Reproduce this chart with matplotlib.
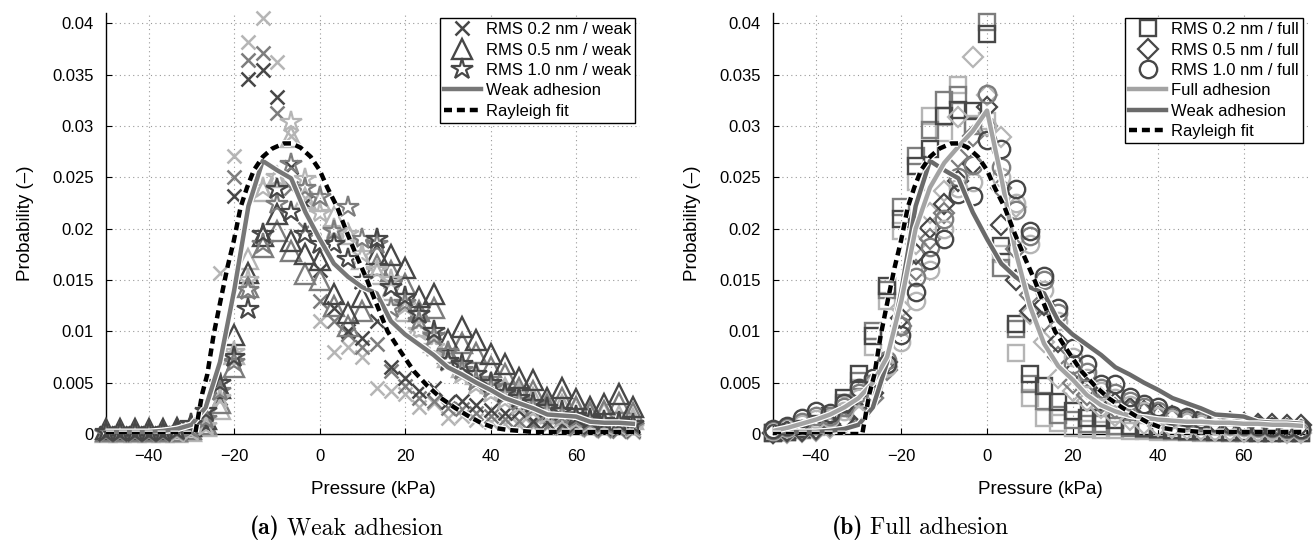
import matplotlib
matplotlib.use("Agg")
import matplotlib.pyplot as plt
import matplotlib.patheffects as pe
from matplotlib.lines import Line2D

plt.rcParams['font.family'] = ['Liberation Sans', 'DejaVu Sans']

# ---------------- data ----------------
bins = [-50.0, -46.67, -43.33, -40.0, -36.67, -33.33, -30.0, -26.67, -23.33, -20.0,
        -16.67, -13.33, -10.0, -6.67, -3.33, 0.0, 3.33, 6.67, 10.0, 13.33,
        16.67, 20.0, 23.33, 26.67, 30.0, 33.33, 36.67, 40.0, 43.33, 46.67,
        50.0, 53.33, 56.67, 60.0, 63.33, 66.67, 70.0, 73.33]

# (a) weak adhesion, RMS 0.2 nm (x markers), three realisations
rms02_weak_dark = [0.0001, 0.0001, 0.0001, 0.0001, 0.0001, 0.0001, 0.0003, 0.0008, 0.0035, 0.0232,
                   0.0346, 0.0355, 0.0328, 0.0260, 0.0225, 0.0160, 0.0123, 0.0100, 0.0094, 0.0110,
                   0.0065, 0.0055, 0.0042, 0.0045, 0.0031, 0.0032, 0.0028, 0.0023, 0.0020, 0.0022,
                   0.0013, 0.0012, 0.0010, 0.0009, 0.0007, 0.0006, 0.0005, 0.0004]
rms02_weak_mid = [0.0001, 0.0001, 0.0001, 0.0001, 0.0001, 0.0001, 0.0002, 0.0010, 0.0050, 0.0250,
                  0.0364, 0.0371, 0.0313, 0.0240, 0.0200, 0.0130, 0.0110, 0.0097, 0.0085, 0.0088,
                  0.0061, 0.0047, 0.0035, 0.0032, 0.0025, 0.0024, 0.0020, 0.0018, 0.0015, 0.0013,
                  0.0010, 0.0008, 0.0007, 0.0006, 0.0005, 0.0004, 0.0003, 0.0003]
rms02_weak_light = [0.0001, 0.0001, 0.0001, 0.0001, 0.0001, 0.0001, 0.0004, 0.0015, 0.0157, 0.0271,
                    0.0382, 0.0405, 0.0362, 0.0290, 0.0230, 0.0110, 0.0080, 0.0085, 0.0075, 0.0045,
                    0.0042, 0.0039, 0.0026, 0.0030, 0.0016, 0.0018, 0.0014, 0.0012, 0.0010, 0.0009,
                    0.0008, 0.0007, 0.0006, 0.0005, 0.0004, 0.0003, 0.0003, 0.0002]

# (a) RMS 0.5 nm (triangles)
rms05_weak_dark = [0.0005, 0.0005, 0.0005, 0.0005, 0.0005, 0.0006, 0.0008, 0.0015, 0.0045, 0.0096,
                   0.0157, 0.0193, 0.0214, 0.0188, 0.0175, 0.0169, 0.0136, 0.0118, 0.0133, 0.0175,
                   0.0174, 0.0162, 0.0133, 0.0136, 0.0092, 0.0104, 0.0092, 0.0078, 0.0068, 0.0055,
                   0.0053, 0.0035, 0.0045, 0.0034, 0.0026, 0.0029, 0.0039, 0.0026]
rms05_weak_mid = [0.0003, 0.0003, 0.0003, 0.0003, 0.0003, 0.0003, 0.0005, 0.0010, 0.0030, 0.0065,
                  0.0143, 0.0182, 0.0198, 0.0178, 0.0156, 0.0150, 0.0125, 0.0105, 0.0120, 0.0165,
                  0.0159, 0.0146, 0.0120, 0.0123, 0.0079, 0.0089, 0.0079, 0.0065, 0.0058, 0.0045,
                  0.0042, 0.0028, 0.0035, 0.0026, 0.0020, 0.0022, 0.0030, 0.0020]
rms05_weak_light = [0.0002, 0.0002, 0.0002, 0.0002, 0.0002, 0.0002, 0.0003, 0.0008, 0.0024, 0.0078,
                    0.0170, 0.0237, 0.0250, 0.0289, 0.0230, 0.0227, 0.0211, 0.0195, 0.0170, 0.0156,
                    0.0140, 0.0120, 0.0105, 0.0090, 0.0075, 0.0065, 0.0058, 0.0050, 0.0045, 0.0040,
                    0.0035, 0.0030, 0.0028, 0.0025, 0.0022, 0.0020, 0.0018, 0.0015]

# (a) RMS 1.0 nm (stars)
rms10_weak_dark = [0.0002, 0.0002, 0.0002, 0.0002, 0.0002, 0.0004, 0.0010, 0.0022, 0.0050, 0.0075,
                   0.0122, 0.0195, 0.0239, 0.0216, 0.0195, 0.0185, 0.0185, 0.0170, 0.0150, 0.0190,
                   0.0143, 0.0133, 0.0117, 0.0100, 0.0071, 0.0068, 0.0058, 0.0050, 0.0040, 0.0035,
                   0.0030, 0.0025, 0.0022, 0.0018, 0.0015, 0.0013, 0.0012, 0.0010]
rms10_weak_mid = [0.0001, 0.0001, 0.0001, 0.0001, 0.0001, 0.0003, 0.0006, 0.0015, 0.0042, 0.0070,
                  0.0140, 0.0185, 0.0224, 0.0263, 0.0240, 0.0231, 0.0198, 0.0221, 0.0190, 0.0185,
                  0.0123, 0.0128, 0.0110, 0.0095, 0.0080, 0.0062, 0.0052, 0.0045, 0.0038, 0.0032,
                  0.0026, 0.0022, 0.0019, 0.0016, 0.0013, 0.0011, 0.0010, 0.0008]
rms10_weak_light = [0.0001, 0.0001, 0.0001, 0.0001, 0.0001, 0.0001, 0.0003, 0.0008, 0.0035, 0.0080,
                    0.0150, 0.0240, 0.0250, 0.0304, 0.0248, 0.0215, 0.0200, 0.0195, 0.0175, 0.0160,
                    0.0150, 0.0125, 0.0100, 0.0085, 0.0070, 0.0058, 0.0048, 0.0040, 0.0033, 0.0028,
                    0.0023, 0.0019, 0.0016, 0.0013, 0.0011, 0.0009, 0.0008, 0.0006]

# (b) full adhesion, RMS 0.2 nm (squares)
rms02_full_dark = [0.0001, 0.0002, 0.0005, 0.0010, 0.0018, 0.0035, 0.0058, 0.0095, 0.0144, 0.0209,
                   0.0261, 0.0278, 0.0310, 0.0316, 0.0315, 0.0390, 0.0183, 0.0107, 0.0058, 0.0047,
                   0.0031, 0.0022, 0.0016, 0.0016, 0.0014, 0.0008, 0.0006, 0.0005, 0.0004, 0.0003,
                   0.0003, 0.0002, 0.0002, 0.0002, 0.0001, 0.0001, 0.0001, 0.0001]
rms02_full_mid = [0.0001, 0.0002, 0.0004, 0.0008, 0.0015, 0.0030, 0.0052, 0.0100, 0.0140, 0.0221,
                  0.0271, 0.0296, 0.0325, 0.0330, 0.0300, 0.0401, 0.0162, 0.0102, 0.0049, 0.0032,
                  0.0019, 0.0014, 0.0010, 0.0010, 0.0008, 0.0006, 0.0005, 0.0004, 0.0003, 0.0002,
                  0.0002, 0.0002, 0.0001, 0.0001, 0.0001, 0.0001, 0.0001, 0.0001]
rms02_full_light = [0.0001, 0.0002, 0.0004, 0.0007, 0.0014, 0.0028, 0.0045, 0.0085, 0.0130, 0.0198,
                    0.0245, 0.0310, 0.0293, 0.0340, 0.0302, 0.0305, 0.0175, 0.0079, 0.0035, 0.0016,
                    0.0011, 0.0006, 0.0005, 0.0004, 0.0004, 0.0003, 0.0003, 0.0002, 0.0002, 0.0002,
                    0.0001, 0.0001, 0.0001, 0.0001, 0.0001, 0.0001, 0.0001, 0.0001]

# (b) RMS 0.5 nm (diamonds)
rms05_full_dark = [0.0001, 0.0003, 0.0003, 0.0005, 0.0010, 0.0015, 0.0022, 0.0040, 0.0070, 0.0113,
                   0.0175, 0.0201, 0.0224, 0.0246, 0.0263, 0.0318, 0.0204, 0.0150, 0.0120, 0.0126,
                   0.0090, 0.0060, 0.0045, 0.0035, 0.0030, 0.0025, 0.0022, 0.0020, 0.0018, 0.0015,
                   0.0013, 0.0012, 0.0012, 0.0011, 0.0010, 0.0010, 0.0009, 0.0009]
rms05_full_mid = [0.0001, 0.0002, 0.0003, 0.0004, 0.0008, 0.0012, 0.0020, 0.0035, 0.0062, 0.0105,
                  0.0160, 0.0190, 0.0215, 0.0270, 0.0290, 0.0300, 0.0240, 0.0180, 0.0135, 0.0110,
                  0.0075, 0.0050, 0.0038, 0.0030, 0.0025, 0.0022, 0.0020, 0.0017, 0.0015, 0.0013,
                  0.0011, 0.0010, 0.0009, 0.0008, 0.0007, 0.0006, 0.0005, 0.0004]
rms05_full_light = [0.0001, 0.0001, 0.0002, 0.0003, 0.0006, 0.0010, 0.0018, 0.0035, 0.0065, 0.0123,
                    0.0185, 0.0215, 0.0237, 0.0309, 0.0367, 0.0330, 0.0289, 0.0221, 0.0117, 0.0090,
                    0.0055, 0.0042, 0.0032, 0.0025, 0.0018, 0.0014, 0.0010, 0.0008, 0.0006, 0.0005,
                    0.0004, 0.0003, 0.0003, 0.0002, 0.0002, 0.0002, 0.0001, 0.0001]

# (b) RMS 1.0 nm (circles)
rms10_full_dark = [0.0005, 0.0008, 0.0016, 0.0022, 0.0020, 0.0030, 0.0045, 0.0055, 0.0068, 0.0096,
                   0.0138, 0.0169, 0.0190, 0.0234, 0.0232, 0.0286, 0.0278, 0.0239, 0.0198, 0.0154,
                   0.0123, 0.0084, 0.0068, 0.0049, 0.0049, 0.0036, 0.0029, 0.0026, 0.0019, 0.0017,
                   0.0015, 0.0012, 0.0010, 0.0009, 0.0008, 0.0007, 0.0006, 0.0005]
rms10_full_mid = [0.0004, 0.0007, 0.0012, 0.0018, 0.0018, 0.0026, 0.0040, 0.0050, 0.0072, 0.0105,
                  0.0153, 0.0182, 0.0209, 0.0250, 0.0262, 0.0331, 0.0260, 0.0218, 0.0193, 0.0150,
                  0.0118, 0.0068, 0.0060, 0.0045, 0.0040, 0.0032, 0.0026, 0.0022, 0.0018, 0.0015,
                  0.0013, 0.0011, 0.0009, 0.0008, 0.0007, 0.0006, 0.0005, 0.0004]
rms10_full_light = [0.0003, 0.0006, 0.0010, 0.0015, 0.0016, 0.0022, 0.0035, 0.0048, 0.0065, 0.0090,
                    0.0130, 0.0160, 0.0200, 0.0240, 0.0245, 0.0300, 0.0250, 0.0225, 0.0185, 0.0140,
                    0.0110, 0.0075, 0.0055, 0.0042, 0.0035, 0.0028, 0.0022, 0.0018, 0.0015, 0.0012,
                    0.0010, 0.0009, 0.0008, 0.0007, 0.0006, 0.0005, 0.0004, 0.0003]

# mean curves
weak_adhesion = [0.0002, 0.0002, 0.0002, 0.0002, 0.0003, 0.0005, 0.0009, 0.0026, 0.0070, 0.0140,
                 0.0222, 0.0266, 0.0257, 0.0249, 0.0216, 0.0190, 0.0166, 0.0153, 0.0143, 0.0137,
                 0.0110, 0.0097, 0.0087, 0.0077, 0.0065, 0.0058, 0.0050, 0.0043, 0.0035, 0.0030,
                 0.0025, 0.0019, 0.0018, 0.0017, 0.0012, 0.0011, 0.0011, 0.0010]
full_adhesion = [0.0003, 0.0006, 0.0010, 0.0014, 0.0019, 0.0026, 0.0035, 0.0050, 0.0075, 0.0130,
                 0.0200, 0.0240, 0.0264, 0.0280, 0.0295, 0.0315, 0.0250, 0.0178, 0.0125, 0.0088,
                 0.0066, 0.0053, 0.0038, 0.0028, 0.0022, 0.0018, 0.0016, 0.0014, 0.0013, 0.0012,
                 0.0012, 0.0011, 0.0011, 0.0010, 0.0010, 0.0009, 0.0009, 0.0008]

# Rayleigh fit
rayleigh_x = [-50, -40, -30, -29.1, -27.5, -26.3, -24.8, -23.2, -21.6, -20.1, -18.5, -17.0, -15.4,
              -13.3, -11.1, -8.4, -6.6, -4.5, -2.1, 0.0, 1.8, 4.1, 6.5, 8.8, 11.2, 12.7, 15.9,
              19.0, 22.1, 25.2, 28.4, 31.5, 34.6, 37.7, 40.9, 44.0, 47.0, 50.0, 55.0, 60.0,
              65.0, 70.0, 75.0]
rayleigh_y = [0.0, 0.0, 0.0, 0.0001, 0.0039, 0.0058, 0.0097, 0.0130, 0.0162, 0.0188, 0.0221,
              0.0240, 0.0257, 0.0270, 0.0278, 0.0283, 0.0283, 0.0279, 0.0270, 0.0257, 0.0240,
              0.0221, 0.0195, 0.0172, 0.0149, 0.0133, 0.0100, 0.0080, 0.0061, 0.0047, 0.0035,
              0.0026, 0.0018, 0.0011, 0.0006, 0.0004, 0.0003, 0.0002, 0.0002, 0.0002, 0.0002,
              0.0002, 0.0002]

xticks = [-40, -20, 0, 20, 40, 60]
yticks = [0, 0.005, 0.01, 0.015, 0.02, 0.025, 0.03, 0.035, 0.04]
ytick_labels = ['0', '0.005', '0.01', '0.015', '0.02', '0.025', '0.03', '0.035', '0.04']

# ---------------- style ----------------
DARK, MID, LIGHT = '#474747', '#7d7d7d', '#b5b5b5'
FS = 12

fig = plt.figure(figsize=(13.14, 5.43), dpi=100)
axL = fig.add_axes([0.0807, 0.2007, 0.4064, 0.7753])
axR = fig.add_axes([0.5883, 0.2007, 0.4071, 0.7753])


def style_axes(ax):
    ax.set_xlim(-50, 75)
    ax.set_ylim(0, 0.041)
    ax.set_xticks(xticks)
    ax.set_xticklabels([('\u2212' if t < 0 else '') + str(abs(t)) for t in xticks], fontsize=FS)
    ax.set_yticks(yticks)
    ax.set_yticklabels(ytick_labels, fontsize=FS)
    for s in ('top', 'right'):
        ax.spines[s].set_visible(False)
    for s in ('left', 'bottom'):
        ax.spines[s].set_linewidth(1.0)
    ax.tick_params(direction='in', length=4, width=0.8)
    ax.tick_params(axis='x', pad=11)
    ax.tick_params(axis='y', pad=9)
    ax.grid(True, linestyle=(0, (1, 3)), color='#999999', linewidth=0.8)
    ax.set_axisbelow(True)
    ax.set_xlabel('Pressure (kPa)', fontsize=13.5, labelpad=12)
    ax.set_ylabel('Probability (\u2013)', fontsize=13.5, labelpad=13)


def scatter_set(ax, series, marker, ms, mew):
    for ys, col in series:
        ax.plot(bins, ys, linestyle='none', marker=marker, ms=ms, mfc='none',
                mec=col, mew=mew, clip_on=False, zorder=3)


halo = [pe.Stroke(linewidth=5.0, foreground='white'), pe.Normal()]

MS_X, MS_T, MS_S = 10, 14, 16
MS_SQ, MS_D, MS_O = 11.5, 10.5, 12.5

# ---------- (a) weak adhesion ----------
style_axes(axL)
scatter_set(axL, [(rms02_weak_light, LIGHT), (rms02_weak_mid, MID), (rms02_weak_dark, DARK)], 'x', MS_X, 1.8)
scatter_set(axL, [(rms05_weak_light, LIGHT), (rms05_weak_mid, MID), (rms05_weak_dark, DARK)], '^', MS_T, 1.7)
scatter_set(axL, [(rms10_weak_light, LIGHT), (rms10_weak_mid, MID), (rms10_weak_dark, DARK)], '*', MS_S, 1.6)
axL.plot(bins, weak_adhesion, color='#777777', lw=3.2, zorder=5, path_effects=halo)
axL.plot(rayleigh_x, rayleigh_y, color='black', lw=3.2, linestyle=(0, (1.8, 1.1)), zorder=6,
         path_effects=halo)

hL = [Line2D([], [], ls='none', marker='x', ms=MS_X, mfc='none', mec=DARK, mew=1.8),
      Line2D([], [], ls='none', marker='^', ms=MS_T, mfc='none', mec=DARK, mew=1.7),
      Line2D([], [], ls='none', marker='*', ms=MS_S, mfc='none', mec=DARK, mew=1.6),
      Line2D([], [], color='#777777', lw=3.2),
      Line2D([], [], color='black', lw=3.2, ls=(0, (1.8, 1.1)))]
labL = ['RMS 0.2 nm / weak', 'RMS 0.5 nm / weak', 'RMS 1.0 nm / weak', 'Weak adhesion', 'Rayleigh fit']
legL = axL.legend(hL, labL, loc='upper right', bbox_to_anchor=(1.0, 1.0), fontsize=FS,
                  frameon=True, fancybox=False, edgecolor='black', framealpha=1,
                  borderaxespad=0.3, handlelength=2.2, handletextpad=0.3, labelspacing=0.32,
                  borderpad=0.25)
legL.get_frame().set_linewidth(1.0)
legL.set_zorder(10)

# ---------- (b) full adhesion ----------
style_axes(axR)
scatter_set(axR, [(rms02_full_light, LIGHT), (rms02_full_mid, MID), (rms02_full_dark, DARK)], 's', MS_SQ, 1.7)
scatter_set(axR, [(rms05_full_light, LIGHT), (rms05_full_mid, MID), (rms05_full_dark, DARK)], 'D', MS_D, 1.6)
scatter_set(axR, [(rms10_full_light, LIGHT), (rms10_full_mid, MID), (rms10_full_dark, DARK)], 'o', MS_O, 1.7)
axR.plot(bins, weak_adhesion, color='#6a6a6a', lw=3.2, zorder=5, path_effects=halo)
axR.plot(bins, full_adhesion, color='#a3a3a3', lw=3.2, zorder=5, path_effects=halo)
axR.plot(rayleigh_x, rayleigh_y, color='black', lw=3.2, linestyle=(0, (1.8, 1.1)), zorder=6,
         path_effects=halo)

hR = [Line2D([], [], ls='none', marker='s', ms=MS_SQ, mfc='none', mec=DARK, mew=1.7),
      Line2D([], [], ls='none', marker='D', ms=MS_D, mfc='none', mec=DARK, mew=1.6),
      Line2D([], [], ls='none', marker='o', ms=MS_O, mfc='none', mec=DARK, mew=1.7),
      Line2D([], [], color='#a3a3a3', lw=3.2),
      Line2D([], [], color='#6a6a6a', lw=3.2),
      Line2D([], [], color='black', lw=3.2, ls=(0, (1.8, 1.1)))]
labR = ['RMS 0.2 nm / full', 'RMS 0.5 nm / full', 'RMS 1.0 nm / full', 'Full adhesion',
        'Weak adhesion', 'Rayleigh fit']
legR = axR.legend(hR, labR, loc='upper right', bbox_to_anchor=(1.0, 1.0), fontsize=FS,
                  frameon=True, fancybox=False, edgecolor='black', framealpha=1,
                  borderaxespad=0.3, handlelength=2.2, handletextpad=0.3, labelspacing=0.32,
                  borderpad=0.25)
legR.get_frame().set_linewidth(1.0)
legR.set_zorder(10)

# ---------- captions ----------
W, H = 1314, 543
fig.text(280 / W, 1 - 528 / H, '(a)', family='cmb10', fontsize=17, ha='right', va='center')
fig.text(287 / W, 1 - 528 / H, 'Weak adhesion', family='cmr10', fontsize=17, ha='left', va='center')
fig.text(863 / W, 1 - 528 / H, '(b)', family='cmb10', fontsize=17, ha='right', va='center')
fig.text(870 / W, 1 - 528 / H, 'Full adhesion', family='cmr10', fontsize=17, ha='left', va='center')

fig.savefig('out.png', dpi=100)
